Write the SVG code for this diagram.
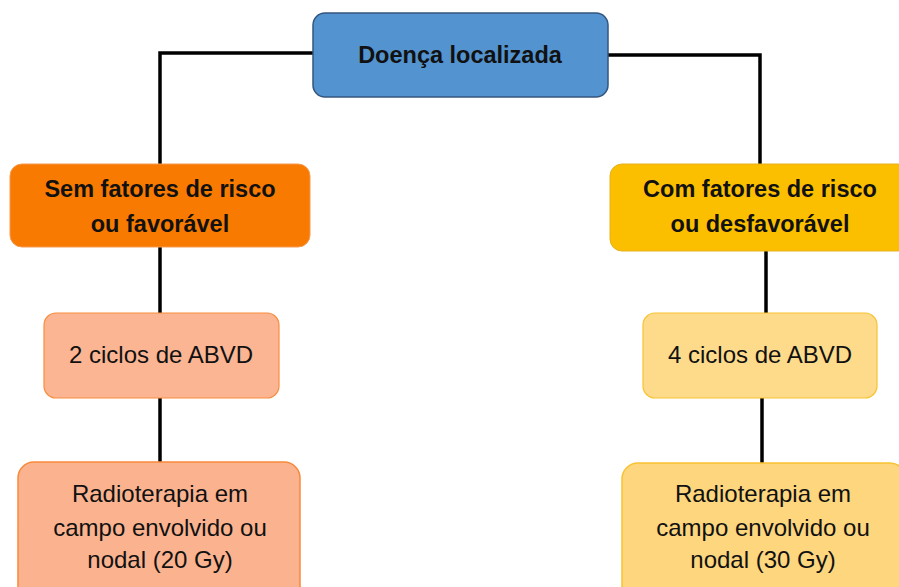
<svg xmlns="http://www.w3.org/2000/svg" width="899" height="587" viewBox="0 0 899 587">
<style>
.t{font-family:"Liberation Sans",Arial,sans-serif;fill:#111;text-anchor:middle}
.b{font-weight:bold;font-size:23.5px}
.r{font-size:24px}
.c{fill:none;stroke:#000;stroke-width:3.5}
</style>
<rect width="899" height="587" fill="#fff"/>
<g id="connectors">
<polyline class="c" points="313,53 160,53 160,164"/>
<polyline class="c" points="608,55 760,55 760,165"/>
<line class="c" x1="160" y1="247" x2="160" y2="313"/>
<line class="c" x1="766" y1="251" x2="766" y2="313"/>
<line class="c" x1="160" y1="398" x2="160" y2="462"/>
<line class="c" x1="762" y1="398" x2="762" y2="463"/>
</g>
<g id="root">
<rect x="313" y="13" width="295" height="84" rx="12" fill="#5393d0" stroke="#34557f" stroke-width="1.5"/>
<text class="t b" x="460" y="63">Doença localizada</text>
</g>
<g id="left1">
<rect x="10" y="164" width="300" height="83" rx="12" fill="#f97a00" stroke="#f59a50" stroke-width="1"/>
<text class="t b" x="160" y="197">Sem fatores de risco</text>
<text class="t b" x="160" y="232">ou favorável</text>
</g>
<g id="right1">
<rect x="610" y="164" width="300" height="87" rx="12" fill="#fcbf00" stroke="#e6b020" stroke-width="1"/>
<text class="t b" x="760" y="197">Com fatores de risco</text>
<text class="t b" x="760" y="232">ou desfavorável</text>
</g>
<g id="left2">
<rect x="44" y="313" width="235" height="85" rx="12" fill="#fbb593" stroke="#f78d3f" stroke-width="1.2"/>
<text class="t r" x="161" y="363">2 ciclos de ABVD</text>
</g>
<g id="right2">
<rect x="643" y="313" width="234" height="85" rx="12" fill="#fedb8b" stroke="#f8c232" stroke-width="1.2"/>
<text class="t r" x="760" y="363">4 ciclos de ABVD</text>
</g>
<g id="left3">
<rect x="18" y="462" width="282" height="140" rx="16" fill="#fbb38f" stroke="#f78a3a" stroke-width="1.5"/>
<text class="t r" x="160" y="502">Radioterapia em</text>
<text class="t r" x="160" y="536">campo envolvido ou</text>
<text class="t r" x="160" y="568">nodal (20 Gy)</text>
</g>
<g id="right3">
<rect x="622" y="463" width="284" height="140" rx="16" fill="#fdd67e" stroke="#f8c232" stroke-width="1.5"/>
<text class="t r" x="763" y="502">Radioterapia em</text>
<text class="t r" x="763" y="536">campo envolvido ou</text>
<text class="t r" x="763" y="568">nodal (30 Gy)</text>
</g>
</svg>
